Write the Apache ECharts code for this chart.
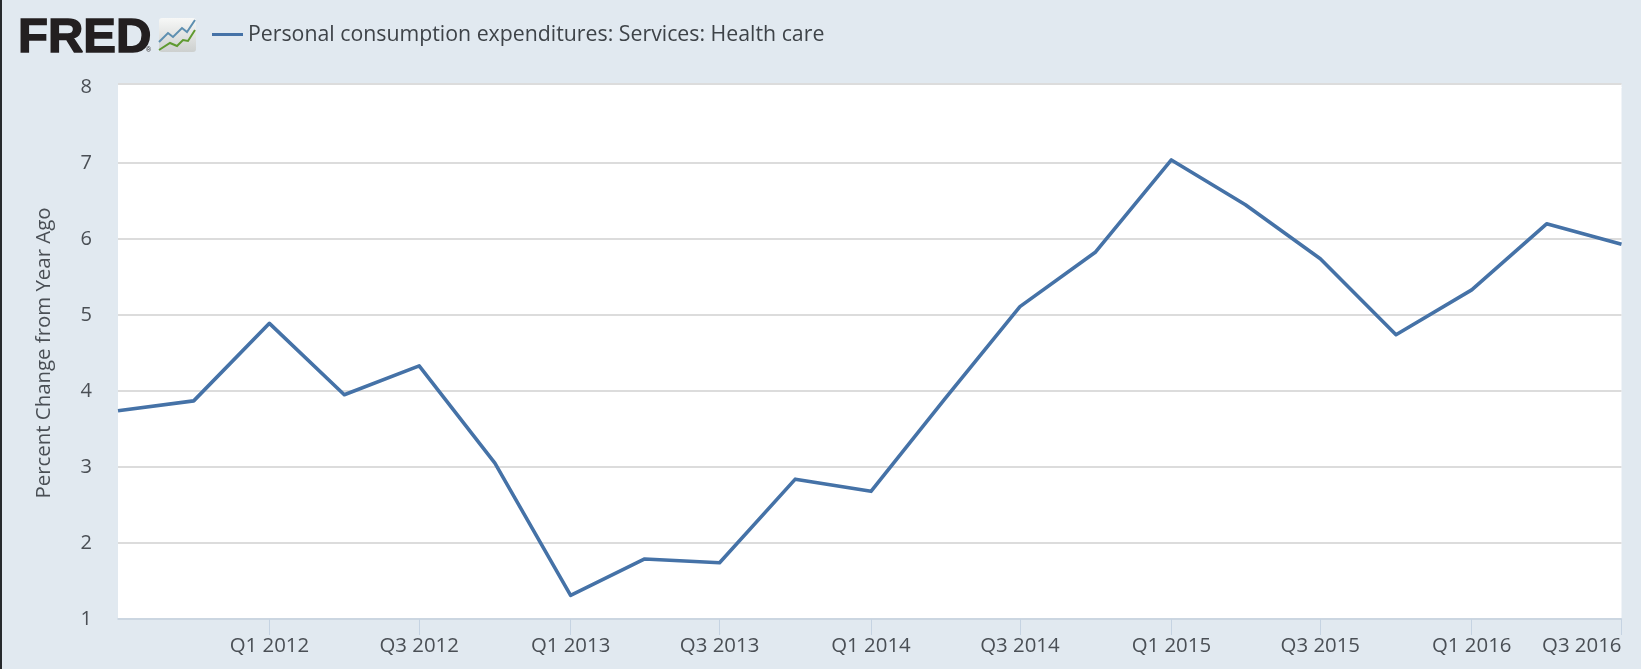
<!DOCTYPE html>
<html><head><meta charset="utf-8">
<style>html,body{margin:0;padding:0;background:#e1e9f0}#c{width:1641px;height:669px}</style>
<script src="https://cdn.jsdelivr.net/npm/echarts@6/dist/echarts.min.js"></script>
</head><body><div id="c"></div>
<script>
const dates=['2011-07-01','2011-10-01','2012-01-01','2012-04-01','2012-07-01','2012-10-01','2013-01-01','2013-04-01','2013-07-01','2013-10-01','2014-01-01','2014-04-01','2014-07-01','2014-10-01','2015-01-01','2015-04-01','2015-07-01','2015-10-01','2016-01-01','2016-04-01','2016-07-01'];
const values=[3.74,3.87,4.89,3.95,4.33,3.05,1.31,1.79,1.74,2.84,2.68,3.90,5.11,5.83,7.04,6.45,5.74,4.74,5.33,6.20,5.93];
const tickDates=['2012-01-01','2012-07-01','2013-01-01','2013-07-01','2014-01-01','2014-07-01','2015-01-01','2015-07-01','2016-01-01','2016-07-01'];
const seriesName='Personal consumption expenditures: Services: Health care';
const yTitle='Percent Change from Year Ago';
const ts=s=>Date.parse(s+'T00:00:00Z');
const fontFamily='"Open Sans"';
const chart=echarts.init(document.getElementById('c'),null,{renderer:'canvas'});
chart.setOption({
 animation:false,
 backgroundColor:'#e1e9f0',
 textStyle:{fontFamily},
 legend:{left:207,top:19,itemWidth:31,itemHeight:3,icon:'rect',itemGap:0,
  textStyle:{fontFamily,fontSize:21.3,color:'#3e4348'},data:[seriesName]},
 grid:{left:118,right:19.5,top:87,bottom:50,backgroundColor:'#fff',show:true,borderWidth:0},
 xAxis:{type:'value',min:ts(dates[0]),max:ts(dates[dates.length-1]),
  axisLine:{onZero:false,lineStyle:{color:'#c5d3e2',width:1.5}},
  axisTick:{length:16,lineStyle:{color:'#c5d3e2',width:1},customValues:tickDates.map(ts)},
  splitLine:{show:false},minorTick:{show:false},
  axisLabel:{customValues:tickDates.map(ts),alignMaxLabel:'right',margin:17,fontFamily,fontSize:20.4,color:'#4a4f55',
   formatter:v=>{const d=new Date(v);return 'Q'+(Math.floor(d.getUTCMonth()/3)+1)+' '+d.getUTCFullYear();}}},
 yAxis:{type:'value',min:1,max:8,interval:1,name:yTitle,nameLocation:'middle',nameGap:64,
  nameTextStyle:{fontFamily,fontSize:20.4,color:'#4a4f55'},
  axisLine:{show:false},axisTick:{show:false},
  axisLabel:{margin:26,fontFamily,fontSize:20,color:'#4a4f55'},
  splitLine:{showMaxLine:false,lineStyle:{color:'#dcdcdc',width:2}}},
 series:[{name:seriesName,type:'line',showSymbol:false,symbol:'none',color:'#4572a7',
  lineStyle:{width:3.6,color:'#4572a7',join:'round'},
  data:dates.map((d,i)=>[ts(d),values[i]])}],
 graphic:[
  {type:'rect',shape:{x:0,y:0,width:2,height:669},style:{fill:'#26292c'}},
  {type:'rect',shape:{x:118,y:84,width:1503.5,height:4},style:{fill:'#fff'}},
  {type:'rect',shape:{x:118,y:83,width:1503.5,height:2},style:{fill:'#dcdcdc'}},
  {type:'text',x:18,y:14,style:{text:'FRED',fontFamily:'"Liberation Sans"',fontWeight:'bold',fontSize:49,fill:'#231f20',stroke:'#231f20',lineWidth:1.5}},
  {type:'text',x:146,y:47,style:{text:'®',fontFamily:'"Liberation Sans"',fontSize:7,fill:'#231f20'}},
  {type:'rect',shape:{x:159,y:18,width:37,height:34,r:3},style:{fill:new echarts.graphic.LinearGradient(0,0,0,1,[{offset:0,color:'#f7f8f7'},{offset:1,color:'#cdd0cf'}])}},
  {type:'polyline',shape:{points:[[159,42],[168,33],[173,37],[182,28],[187,32],[195,20]]},style:{stroke:'#5d8fb0',fill:null,lineWidth:2}},
  {type:'polyline',shape:{points:[[159,50],[170,43],[177,46],[183,40],[188,41],[195,30]]},style:{stroke:'#5f9a30',fill:null,lineWidth:2}}
 ]
});
</script></body></html>
